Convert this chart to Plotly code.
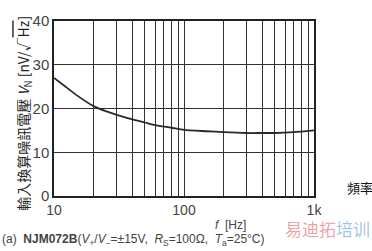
import plotly.graph_objects as go

freq_hz = [10, 12, 15, 20, 25, 30, 40, 50, 60, 80, 100, 150, 200, 300, 400, 500, 700, 1000]
noise_nv = [27.0, 25.2, 23.0, 20.6, 19.4, 18.6, 17.5, 16.8, 16.2, 15.6, 15.1, 14.8, 14.6, 14.4, 14.4, 14.4, 14.6, 15.0]

x_grid_vals = [10, 20, 30, 40, 50, 60, 70, 80, 90,
               100, 200, 300, 400, 500, 600, 700, 800, 900, 1000]
x_grid_text = ["10", "", "", "", "", "", "", "", "",
               "100", "", "", "", "", "", "", "", "", "1k"]
y_tick_vals = [0, 10, 20, 30, 40]
y_tick_text = ["0", "10", "20", "30", "40"]

fig = go.Figure()
fig.add_trace(go.Scatter(x=freq_hz, y=noise_nv, mode="lines",
                         line=dict(color="#2a2a2a", width=1.8, shape="spline", smoothing=0.6),
                         showlegend=False, hoverinfo="skip"))

fig.update_layout(
    width=372, height=251,
    margin=dict(l=54, r=58, t=17, b=55),
    paper_bgcolor="white", plot_bgcolor="white",
    font=dict(family="Liberation Sans, Arial, sans-serif", color="#444"),
)
fig.update_xaxes(type="log", range=[1, 3], tickmode="array",
                 tickvals=x_grid_vals, ticktext=x_grid_text,
                 showgrid=True, gridcolor="#333", gridwidth=1.3,
                 showline=True, linecolor="#222", linewidth=1.5, mirror=True,
                 ticks="", tickfont=dict(size=14, color="#444"), zeroline=False)
fig.update_yaxes(range=[0, 40], tickmode="array",
                 tickvals=y_tick_vals, ticktext=y_tick_text,
                 showgrid=True, gridcolor="#333", gridwidth=1.3,
                 showline=True, linecolor="#222", linewidth=1.5, mirror=True,
                 ticks="", tickfont=dict(size=15, color="#444"), zeroline=False)

cjk = "Noto Sans CJK TC"
fig.add_annotation(xref="paper", yref="paper", x=-54/260, y=0.47,
                   xanchor="left", yanchor="middle", textangle=-90,
                   text="輸入換算噪訊電壓 <i>V</i><sub>N</sub> [nV/√<span style='text-decoration:overline'>Hz</span>]",
                   showarrow=False, font=dict(family=cjk, size=14, color="#222"), xshift=11)
fig.add_annotation(xref="paper", yref="paper", x=1.12, y=0.05, xanchor="left", yanchor="middle",
                   text="頻率", showarrow=False, font=dict(family=cjk, size=13, color="#111"))
fig.add_annotation(xref="paper", yref="paper", x=0.68, y=-0.165, xanchor="center", yanchor="middle",
                   text="<i>f</i>  [Hz]", showarrow=False, font=dict(size=12, color="#444"))
fig.add_annotation(xref="paper", yref="paper", x=-54/260, y=-0.25, xanchor="left", yanchor="middle",
                   text="(a)  <b>NJM072B</b>(<i>V</i><sub>+</sub>/<i>V</i><sub>−</sub>=±15V,  <i>R</i><sub>S</sub>=100Ω,  <i>T</i><sub>a</sub>=25°C)",
                   showarrow=False, font=dict(size=12, color="#444"), align="left")
# watermark
fig.add_annotation(xref="paper", yref="paper", x=1 + 58/260, y=-0.185, xanchor="right", yanchor="middle",
                   text="<span style='color:rgba(220,60,70,0.7)'>易迪拓</span><span style='color:rgba(60,130,200,0.7)'>培训</span>",
                   showarrow=False, font=dict(family="Noto Sans CJK SC", size=17, color="rgba(220,60,70,0.7)"))

fig.write_html("out.html")
